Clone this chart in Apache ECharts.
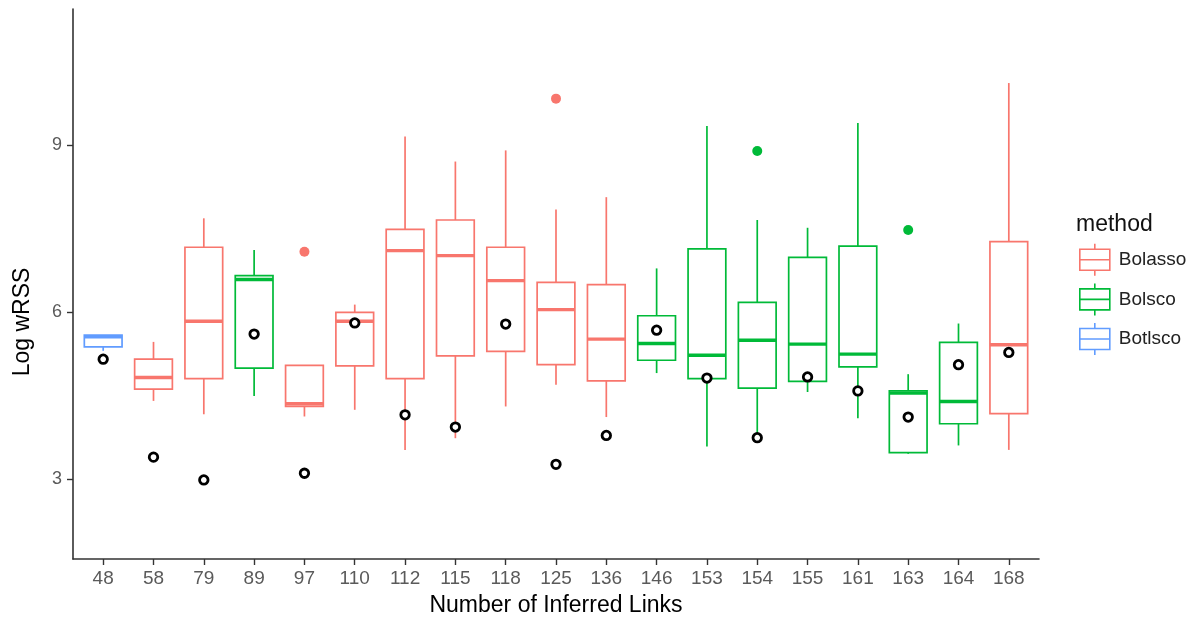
<!DOCTYPE html>
<html>
<head>
<meta charset="utf-8">
<script src="https://cdn.jsdelivr.net/npm/echarts@6/dist/echarts.min.js"></script>
<style>
html,body{margin:0;padding:0;background:#fff;}
#chart{width:1197px;height:619px;}
</style>
</head>
<body>
<div id="chart"></div>
<script>
// ---- data ----
const categories = ['48','58','79','89','97','110','112','115','118','125','136','146','153','154','155','161','163','164','168'];
const methodOf = ['Botlsco','Bolasso','Bolasso','Bolsco','Bolasso','Bolasso','Bolasso','Bolasso','Bolasso','Bolasso','Bolasso','Bolsco','Bolsco','Bolsco','Bolsco','Bolsco','Bolsco','Bolsco','Bolasso'];
const whiskerLow  = [5.30, 4.40, 4.16, 4.49, 4.12, 4.24, 3.52, 3.73, 4.30, 4.69, 4.11, 4.90, 3.58, 3.80, 4.56, 4.09, 3.45, 3.60, 3.52];
const q1          = [5.37, 4.61, 4.80, 4.99, 4.30, 5.03, 4.80, 5.21, 5.29, 5.05, 4.76, 5.13, 4.80, 4.63, 4.75, 5.01, 3.47, 3.99, 4.17];
const median      = [5.55, 4.82, 5.83, 6.58, 4.35, 5.83, 7.10, 7.01, 6.56, 6.04, 5.51, 5.43, 5.22, 5.49, 5.42, 5.24, 4.54, 4.39, 5.41];
const q3          = [5.58, 5.15, 7.16, 6.65, 5.04, 5.99, 7.48, 7.65, 7.16, 6.53, 6.49, 5.93, 7.13, 6.17, 6.98, 7.18, 4.58, 5.45, 7.26];
const whiskerHigh = [5.58, 5.46, 7.68, 7.11, 5.04, 6.13, 9.15, 8.70, 8.90, 7.84, 8.06, 6.78, 9.34, 7.65, 7.51, 9.39, 4.88, 5.79, 10.11];
const trueValue   = [5.15, 3.39, 2.98, 5.60, 3.10, 5.80, 4.15, 3.93, 5.78, 3.26, 3.78, 5.67, 4.81, 3.74, 4.83, 4.58, 4.11, 5.05, 5.27];
const outlierCat  = ['97', '125', '154', '163'];
const outlierVal  = [7.08, 9.83, 8.89, 7.47];
const methods = ['Bolasso', 'Bolsco', 'Botlsco'];
const methodColors = ['#F8766D', '#00BA38', '#619CFF'];
const yTicks = [3, 6, 9];

// ---- build ----
const FONT = '"Liberation Sans", Arial, Helvetica, sans-serif';
const colorOf = m => methodColors[methods.indexOf(m)];
const catIdx = categories.map((c, i) => i);

function makeRender(color) {
  return function (params, api) {
    const x = api.value(0);
    const lo = api.coord([x, api.value(1)]);
    const b1 = api.coord([x, api.value(2)]);
    const md = api.coord([x, api.value(3)]);
    const b3 = api.coord([x, api.value(4)]);
    const hi = api.coord([x, api.value(5)]);
    const w = api.size([1, 0])[0] * 0.75;
    const cx = lo[0];
    const st = { stroke: color, fill: 'none', lineWidth: 1.7 };
    return {
      type: 'group',
      children: [
        { type: 'line', shape: { x1: cx, y1: hi[1], x2: cx, y2: b3[1] }, style: st },
        { type: 'line', shape: { x1: cx, y1: b1[1], x2: cx, y2: lo[1] }, style: st },
        { type: 'rect', shape: { x: cx - w / 2, y: b3[1], width: w, height: b1[1] - b3[1] }, style: st },
        { type: 'line', shape: { x1: cx - w / 2, y1: md[1], x2: cx + w / 2, y2: md[1] }, style: { stroke: color, lineWidth: 3.4 } }
      ]
    };
  };
}

const boxSeries = methods.map((m, k) => ({
  name: m,
  type: 'custom',
  renderItem: makeRender(methodColors[k]),
  itemStyle: { color: methodColors[k] },
  encode: { x: 0, y: [1, 2, 3, 4, 5] },
  data: catIdx.filter(i => methodOf[i] === m).map(i => [i, whiskerLow[i], q1[i], median[i], q3[i], whiskerHigh[i]]),
  z: 2
}));

const outlierSeries = {
  name: 'outliers',
  type: 'scatter',
  symbol: 'circle',
  symbolSize: 10,
  data: outlierCat.map((c, j) => {
    const i = categories.indexOf(c);
    return { value: [i, outlierVal[j]], itemStyle: { color: colorOf(methodOf[i]), opacity: 1 } };
  }),
  z: 3
};

const truthSeries = {
  name: 'truth',
  type: 'scatter',
  symbol: 'circle',
  symbolSize: 8.5,
  itemStyle: { color: '#fff', borderColor: '#000', borderWidth: 2.8, opacity: 1 },
  data: catIdx.map(i => [i, trueValue[i]]),
  z: 4
};

const legendIcon = 'path://M15,0 L15,5.5 M0,5.5 L30,5.5 L30,26.5 L0,26.5 Z M0,16 L30,16 M15,26.5 L15,32';

const option = {
  animation: false,
  backgroundColor: '#fff',
  grid: { left: 73, right: 158, top: 9, bottom: 60, containLabel: false },
  xAxis: {
    type: 'value',
    min: -0.6,
    max: 18.6,
    axisLine: { show: true, onZero: false, lineStyle: { color: '#333', width: 1.6 } },
    axisTick: { show: true, length: 6, customValues: catIdx, lineStyle: { color: '#333', width: 1.4 } },
    axisLabel: {
      customValues: catIdx,
      formatter: v => categories[Math.round(v)],
      color: '#5a5a5a', fontSize: 19, fontFamily: FONT, margin: 10
    },
    splitLine: { show: false }
  },
  yAxis: {
    type: 'value',
    min: 1.56,
    max: 11.44,
    axisLine: { show: true, onZero: false, lineStyle: { color: '#333', width: 1.6 } },
    axisTick: { show: true, length: 6, customValues: yTicks, lineStyle: { color: '#333', width: 1.4 } },
    axisLabel: { customValues: yTicks, color: '#5a5a5a', fontSize: 18, fontFamily: FONT, margin: 11 },
    splitLine: { show: false }
  },
  legend: {
    orient: 'vertical',
    left: 1079,
    top: 243,
    padding: 0,
    itemWidth: 30,
    itemHeight: 32,
    itemGap: 6,
    icon: legendIcon,
    textStyle: { fontSize: 19, color: '#222', fontFamily: FONT, padding: [0, 0, 0, 4] },
    data: methods.map((m, k) => ({
      name: m,
      itemStyle: { color: '#fff', borderColor: methodColors[k], borderWidth: 1.6 }
    }))
  },
  graphic: [
    { type: 'text', x: 23, y: 322, rotation: Math.PI / 2,
      style: { text: 'Log wRSS', font: '23px ' + FONT, fill: '#000', align: 'center', verticalAlign: 'middle' } },
    { type: 'text', x: 556, y: 606,
      style: { text: 'Number of Inferred Links', font: '23px ' + FONT, fill: '#000', align: 'center', verticalAlign: 'middle' } },
    { type: 'text', x: 1076, y: 225,
      style: { text: 'method', font: '23px ' + FONT, fill: '#111', align: 'left', verticalAlign: 'middle' } }
  ],
  series: [...boxSeries, outlierSeries, truthSeries]
};

const chart = echarts.init(document.getElementById('chart'), null, { renderer: 'canvas' });
chart.setOption(option);
</script>
</body>
</html>
